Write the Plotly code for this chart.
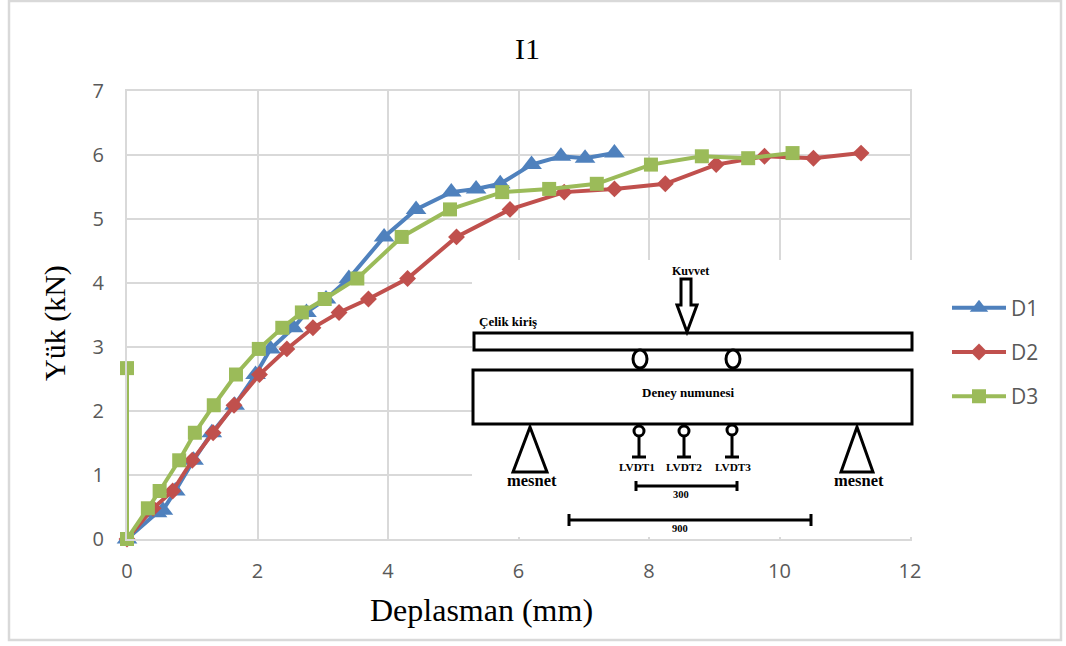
import plotly.graph_objects as go

y_d1 = [0, 0.41, 0.45, 0.75, 1.23, 1.66, 2.09, 2.57, 2.97, 3.3, 3.54, 3.75, 4.07, 4.72, 5.15, 5.42, 5.47, 5.55, 5.85, 5.98, 5.95, 6.03]
x_d1 = [0, 0.46, 0.55, 0.74, 1.02, 1.3, 1.65, 1.97, 2.2, 2.55, 2.75, 3.05, 3.4, 3.94, 4.43, 4.97, 5.35, 5.72, 6.2, 6.65, 7.02, 7.47]
y_d2 = [0, 0.48, 0.75, 1.23, 1.66, 2.09, 2.57, 2.97, 3.3, 3.54, 3.75, 4.07, 4.72, 5.15, 5.42, 5.47, 5.55, 5.85, 5.98, 5.95, 6.03]
x_d2 = [0, 0.4, 0.7, 1.0, 1.32, 1.64, 2.03, 2.45, 2.85, 3.25, 3.7, 4.3, 5.05, 5.87, 6.7, 7.47, 8.25, 9.03, 9.77, 10.52, 11.25]
y_d3 = [2.67, 0, 0.48, 0.75, 1.23, 1.66, 2.09, 2.57, 2.97, 3.3, 3.54, 3.75, 4.07, 4.72, 5.15, 5.42, 5.47, 5.55, 5.85, 5.98, 5.95, 6.03]
x_d3 = [0, 0, 0.32, 0.5, 0.8, 1.04, 1.33, 1.67, 2.02, 2.38, 2.68, 3.03, 3.53, 4.21, 4.95, 5.75, 6.47, 7.2, 8.03, 8.81, 9.52, 10.2]

W, H = 1066, 646
L, R, T, B = 127, 910, 91, 539
px = lambda x: (x - L) / (R - L)
py = lambda y: (B - y) / (B - T)

fig = go.Figure()
for name, xs, ys, col, sym, size in [
    ("D1", x_d1, y_d1, "#4F81BD", "triangle-up", 18),
    ("D2", x_d2, y_d2, "#C0504D", "diamond", 13),
    ("D3", x_d3, y_d3, "#9BBB59", "square", 14),
]:
    fig.add_trace(go.Scatter(x=xs, y=ys, name=name, mode="lines+markers", legendgroup=name,
                             line=dict(color=col, width=4),
                             marker=dict(symbol=sym, size=size, color=col, line=dict(width=0)),
                             cliponaxis=False))

shapes = []
annots = []
def rect(x0, y0, x1, y1, line="black", w=3, fill=None):
    shapes.append(dict(type="rect", xref="paper", yref="paper", x0=px(x0), x1=px(x1), y0=py(y0), y1=py(y1),
                       line=dict(color=line, width=w), fillcolor=fill, layer="above"))
def oval(cx, cy, rx, ry, w=3):
    shapes.append(dict(type="circle", xref="paper", yref="paper", x0=px(cx-rx), x1=px(cx+rx), y0=py(cy-ry), y1=py(cy+ry),
                       line=dict(color="black", width=w), fillcolor="white", layer="above"))
def seg(x0, y0, x1, y1, w=3):
    shapes.append(dict(type="line", xref="paper", yref="paper", x0=px(x0), x1=px(x1), y0=py(y0), y1=py(y1),
                       line=dict(color="black", width=w), layer="above"))
def poly(pts, w=3):
    d = "M " + " L ".join(f"{px(a):.5f} {py(b):.5f}" for a, b in pts) + " Z"
    shapes.append(dict(type="path", xref="paper", yref="paper", path=d, line=dict(color="black", width=w),
                       fillcolor="white", layer="above"))
def txt(x, y, s, size, bold=True):
    annots.append(dict(xref="paper", yref="paper", x=px(x), y=py(y), text=f"<b>{s}</b>" if bold else s, showarrow=False,
                       xanchor="center", yanchor="middle",
                       font=dict(family="Liberation Serif", size=size, color="black")))

# outer frame
rect(9, 1, 1061, 640, line="#d9d9d9", w=2.5)
# inset background
rect(472, 260, 913, 537, line="white", w=0, fill="white")
# schematic
rect(474, 333, 912, 350)
rect(473, 370, 912, 424)
oval(640, 359, 7, 9)
oval(733, 359, 7, 9)
poly([(681, 279), (691, 279), (691, 305), (697, 305), (687, 332), (677, 305), (681, 305)])
poly([(530, 427), (547, 472), (513, 472)])
poly([(857, 427), (873, 472), (841, 472)])
for cx, cy in [(639, 431), (684, 431), (732, 430)]:
    seg(cx, cy + 4, cx, 457)
    seg(cx - 7, 457, cx + 7, 457)
    oval(cx, cy, 5, 5)
seg(636, 486, 737, 486); seg(636, 481, 636, 491); seg(737, 481, 737, 491)
seg(569, 520, 811, 520); seg(569, 514, 569, 526); seg(811, 514, 811, 526)
txt(690, 271, "Kuvvet", 12)
txt(508, 321, "Çelik kiriş", 13)
txt(688, 392, "Deney numunesi", 13)
txt(532, 480, "mesnet", 16.5)
txt(859, 480, "mesnet", 16.5)
txt(637, 467, "LVDT1", 11.3)
txt(684, 467, "LVDT2", 11.3)
txt(733, 467, "LVDT3", 11.3)
txt(681, 494, "300", 10.5)
txt(680, 528, "900", 10.5)
# title and axis titles
txt(527, 48, "I1", 30, bold=False)
txt(481, 610, "Deplasman (mm)", 32, bold=False)
annots.append(dict(xref="paper", yref="paper", x=px(55), y=py(323), text="Yük (kN)", textangle=-90, showarrow=False,
                   xanchor="center", yanchor="middle", font=dict(family="Liberation Serif", size=30, color="black")))

axis = dict(showline=True, mirror=True, linecolor="#d9d9d9", linewidth=2,
            zeroline=False, gridcolor="#d9d9d9", gridwidth=2,
            ticks="",
            tickfont=dict(family="Open Sans", size=20, color="#595959"))
fig.update_layout(
    width=W, height=H, margin=dict(l=L, r=W - R, t=T, b=H - B),
    paper_bgcolor="white", plot_bgcolor="white", font=dict(family="Open Sans"),
    xaxis=dict(axis, range=[0, 12], tickvals=[0, 2, 4, 6, 8, 10, 12], ticklabelstandoff=13),
    yaxis=dict(axis, range=[0, 7], tickvals=[0, 1, 2, 3, 4, 5, 6, 7], ticklabelstandoff=17),
    shapes=shapes, annotations=annots,
    legend=dict(x=px(947), y=py(287.5), xanchor="left", yanchor="top", itemwidth=54, tracegroupgap=14,
                font=dict(family="Open Sans", size=21, color="#595959"), bgcolor="rgba(0,0,0,0)"),
)
fig.write_html("out.html", config={"displayModeBar": False}, post_script="document.body.style.margin='0';")
